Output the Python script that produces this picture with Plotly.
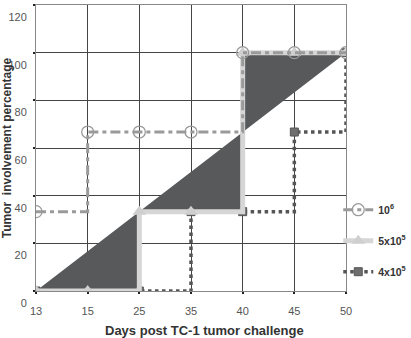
import plotly.graph_objects as go

days = ["13", "15", "25", "35", "40", "45", "50"]
diagonal = [0, 16.7, 33.3, 50, 66.7, 83.3, 100]
dose_1e6 = [33.3, 66.7, 66.7, 66.7, 100, 100, 100]
dose_5e5 = [0, 0, 33.3, 33.3, 100, 100, 100]
dose_4e5 = [0, 0, 0, 33.3, 33.3, 66.7, 100]
y_ticks = [0, 20, 40, 60, 80, 100, 120]

FONT = "Arial, 'Liberation Sans', sans-serif"

fig = go.Figure()

# reference diagonal (invisible), then 5x10^5 step filled to it
fig.add_trace(go.Scatter(x=days, y=diagonal, mode="lines",
                         line=dict(width=0, color="rgba(0,0,0,0)"),
                         showlegend=False, hoverinfo="skip"))
fig.add_trace(go.Scatter(x=days, y=dose_5e5, mode="lines", line_shape="hv",
                         line=dict(width=0, color="rgba(0,0,0,0)"),
                         fill="tonexty", fillcolor="#58595b",
                         showlegend=False, hoverinfo="skip"))

fig.add_trace(go.Scatter(x=days, y=dose_4e5, mode="lines+markers", line_shape="hv",
                         name="4x10<sup>5</sup>",
                         line=dict(color="#555555", width=3.5, dash="dot"),
                         marker=dict(symbol="square", size=8, color="#6e6e6e",
                                     line=dict(color="#555555", width=1)),
                         legendrank=3, legendgroup="c"))
fig.add_trace(go.Scatter(x=days, y=dose_5e5, mode="lines+markers", line_shape="hv",
                         name="5x10<sup>5</sup>",
                         line=dict(color="#d6d6d6", width=5),
                         marker=dict(symbol="triangle-up", size=12, color="#cfcfcf"),
                         legendrank=2, legendgroup="b"))
fig.add_trace(go.Scatter(x=days, y=dose_1e6, mode="lines+markers", line_shape="hv",
                         name="10<sup>6</sup>",
                         line=dict(color="#9a9a9a", width=3, dash="10px,4px,4px,4px"),
                         marker=dict(symbol="circle-open", size=12, color="#9a9a9a",
                                     line=dict(width=1.3)),
                         legendrank=1, legendgroup="a"))

fig.update_layout(
    width=411, height=338,
    margin=dict(l=36, r=65, t=5, b=47, autoexpand=False),
    paper_bgcolor="white", plot_bgcolor="white",
    font=dict(family=FONT, size=11, color="#555"),
    showlegend=True,
    legend=dict(x=0.975, xanchor="left", y=0.335, yanchor="top",
                bgcolor="rgba(0,0,0,0)", tracegroupgap=12, itemwidth=30,
                font=dict(family=FONT, size=10.5, color="#333", weight="bold")),
    xaxis=dict(type="category", range=[0, 6], showgrid=True, gridcolor="#444",
               gridwidth=1, showline=True, linecolor="#888", mirror=True,
               ticks="outside", ticklen=2, tickcolor="#222", tickwidth=2,
               ticklabelstandoff=8, tickfont=dict(size=11, color="#555")),
    yaxis=dict(range=[0, 120], tickvals=y_ticks, showgrid=True, gridcolor="#444",
               gridwidth=1, zeroline=False, showline=True, linecolor="#888",
               mirror=True, ticks="outside", ticklen=2, tickcolor="#222", tickwidth=2,
               ticklabelshift=12, ticklabelstandoff=4,
               tickfont=dict(size=11, color="#555"),
               title=dict(text="Tumor  involvement percentage", standoff=2,
                          font=dict(family=FONT, size=12, color="#333", weight="bold"))),
    annotations=[dict(text="Days post TC-1 tumor challenge", xref="paper", yref="paper",
                      x=0.545, y=0, yshift=-39, xanchor="center", yanchor="middle",
                      showarrow=False,
                      font=dict(family=FONT, size=13, color="#333", weight="bold"))],
)

fig.write_html("out.html")
